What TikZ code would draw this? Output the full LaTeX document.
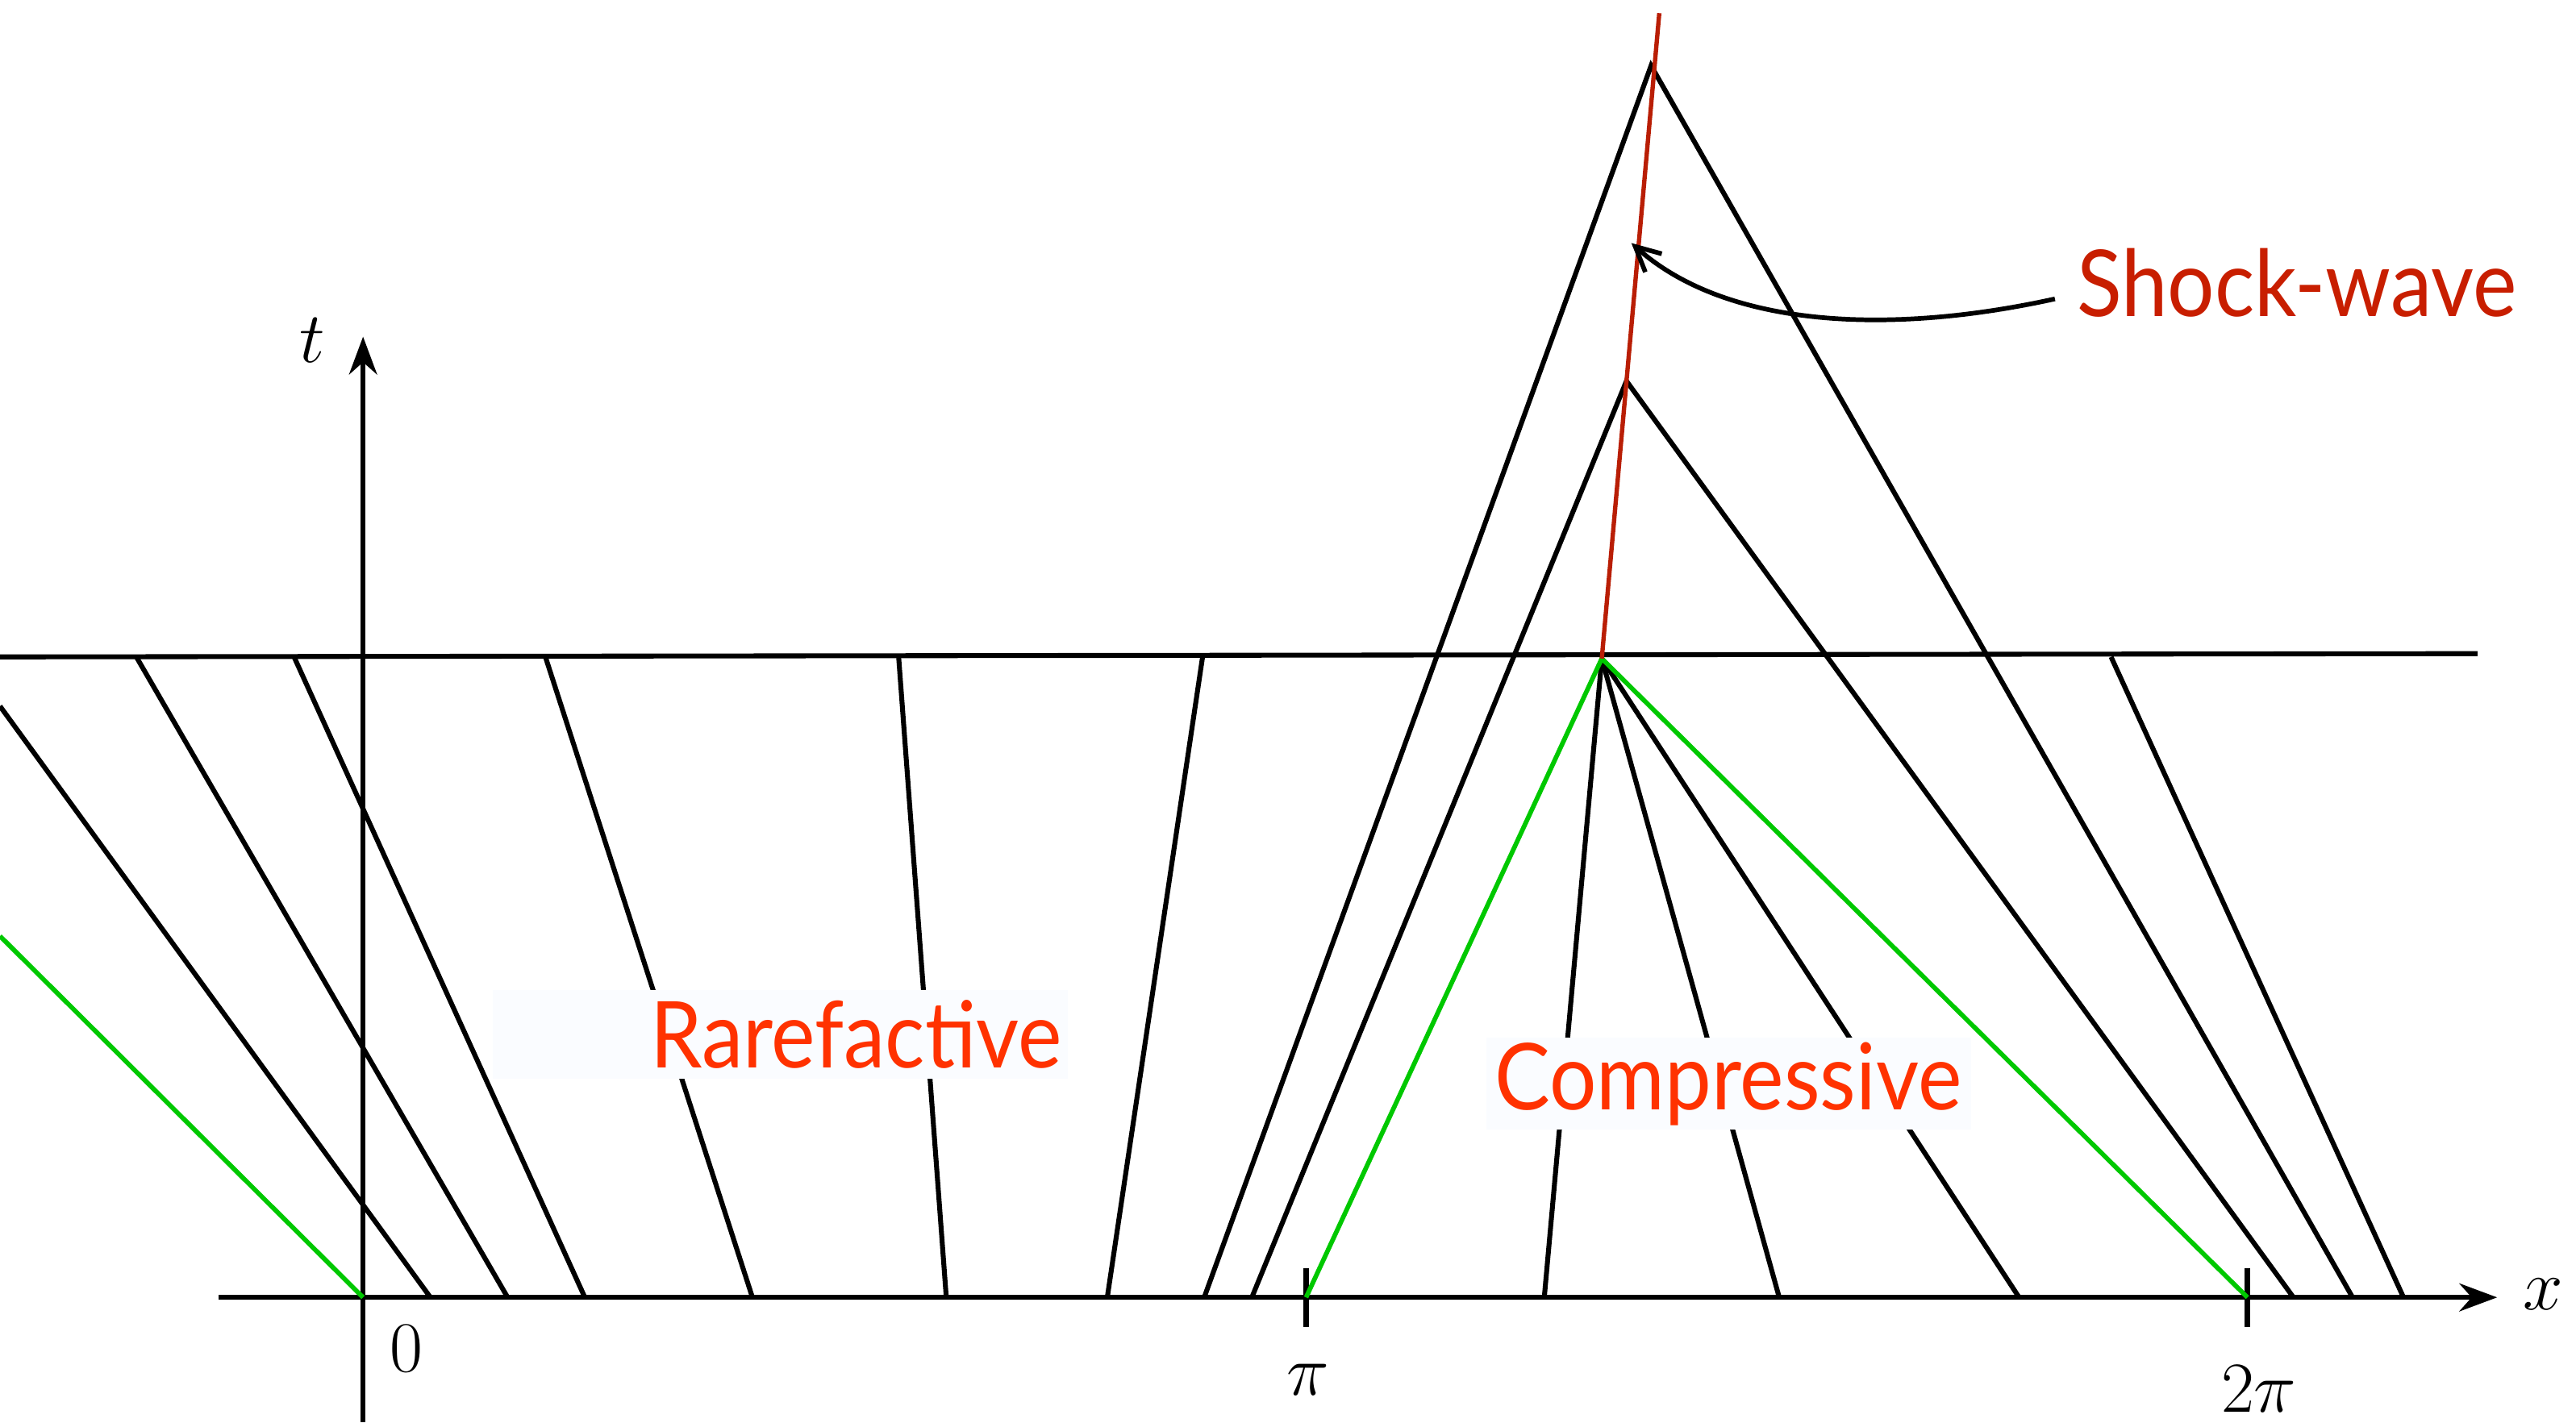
\documentclass[tikz,border=0pt]{standalone}
\usepackage{fontspec}
\newfontfamily\gillfont{Lato}[FakeStretch=0.9]
\usetikzlibrary{arrows.meta}
\definecolor{shockred}{RGB}{185,30,5}
\definecolor{labelred}{RGB}{255,50,0}
\definecolor{wavered}{RGB}{200,30,0}
\definecolor{limitgreen}{RGB}{0,200,0}
\definecolor{boxwhite}{RGB}{250,252,255}
\tikzset{
  charline/.style={line width=1.7pt, black},
  edgeline/.style={line width=1.6pt, limitgreen},
  shockline/.style={line width=1.5pt, shockred},
  axis/.style={line width=1.7pt, -{Stealth[length=4.6mm, width=3.4mm]}},
  tickmark/.style={line width=2pt},
  mathlabel/.style={font=\fontsize{29}{31}\selectfont, inner sep=0pt},
  regionlabel/.style={font=\gillfont\fontsize{32}{34}\selectfont, text=labelred, inner sep=0pt},
  pointer/.style={line width=1.6pt, -{Straight Barb[length=3mm, width=3mm]}}
}

\begin{document}
\begin{tikzpicture}[x=2cm, y=2cm]
    \useasboundingbox (-2.21,-0.76) rectangle (13.47,7.90);

    % axes
    \draw[axis] (-0.88,0) -- (12.99,0);
    \draw[axis] (0,-0.76) -- (0,5.85);
    \draw[tickmark] (5.74,-0.18) -- (5.74,0.18);
    \draw[tickmark] (11.47,-0.18) -- (11.47,0.18);
    \node (lblx)  [mathlabel] at (13.27,0.02) {$x$};
    \node (lblt)  [mathlabel] at (-0.31,5.83) {$t$};
    \node (lbl0)  [mathlabel] at (0.265,-0.31) {$0$};
    \node (lblpi) [mathlabel] at (5.75,-0.50) {$\pi$};
    \node (lbl2pi)[mathlabel] at (11.54,-0.56) {$2\pi$};

    % level t = t_s
    \draw[charline] (-2.21,3.90) -- (12.87,3.92);

    % characteristics, rarefactive side
    \draw[charline] (-2.21,3.60) -- (0.41,0);
    \draw[charline] (-1.38,3.90) -- (0.88,0);
    \draw[charline] (-0.42,3.90) -- (1.35,0);
    \draw[charline] (1.11,3.90) -- (2.37,0);
    \draw[charline] (3.26,3.90) -- (3.55,0);
    \draw[charline] (5.11,3.90) -- (4.53,0);
    \draw[edgeline] (-2.21,2.20) -- (0,0);

    % characteristics, compressive side
    \coordinate (apex) at (7.54,3.89);
    \coordinate (upper) at (7.84,7.50);
    \coordinate (lower) at (7.69,5.58);
    \draw[charline] (5.12,0) -- (upper) -- (12.11,0);
    \draw[charline] (5.41,0) -- (lower) -- (11.75,0);
    \foreach \xe in {7.19, 8.62, 10.08}
        \draw[charline] (apex) -- (\xe,0);
    \draw[charline] (10.64,3.90) -- (12.42,0);
    \draw[edgeline] (5.74,0) -- (apex) -- (11.47,0);

    % shock
    \draw[shockline] (apex) -- (7.89,7.82);

    % labels
    \fill[boxwhite] (0.79,1.33) rectangle (4.29,1.87);
    \node (rare) [regionlabel] at (3.00,1.60) {Rarefactive};
    \fill[boxwhite] (6.84,1.02) rectangle (9.79,1.58);
    \node (comp) [regionlabel] at (8.31,1.30) {Compressive};
    \node (shock) [regionlabel, text=wavered] at (11.77,6.18) {Shock-wave};
    \coordinate (shocktip) at (7.72,6.42);
    \draw[pointer] ([shift={(-0.13,-0.10)}]shock.west) .. controls (9.3,5.86) and (8.3,5.90) .. (shocktip);
\end{tikzpicture}
\end{document}
